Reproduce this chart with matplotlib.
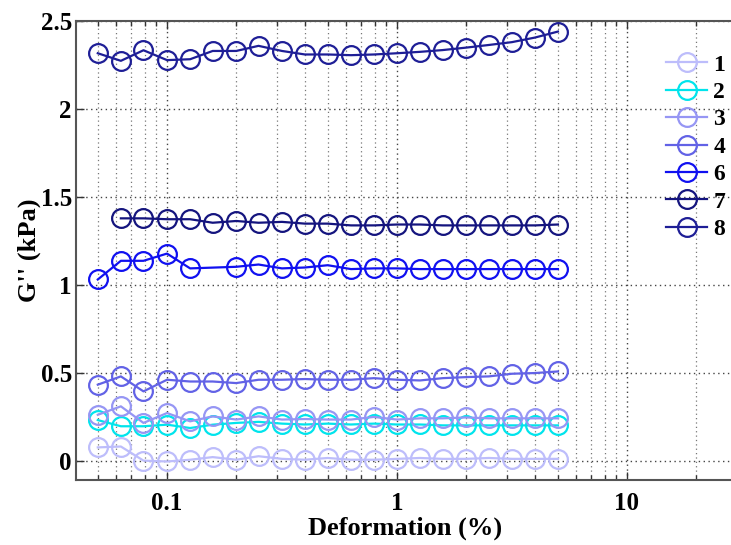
import numpy as np
import matplotlib
matplotlib.use("Agg")
import matplotlib.pyplot as plt
from matplotlib.ticker import LogLocator, FixedLocator, NullFormatter, FixedFormatter

# ---- data ----
x_full = [0.05, 0.063, 0.079, 0.1, 0.126, 0.158, 0.2, 0.25, 0.316, 0.398, 0.5,
          0.631, 0.794, 1.0, 1.26, 1.58, 2.0, 2.51, 3.16, 3.98, 5.01]
x_s6 = [0.05, 0.063, 0.079, 0.1, 0.126, 0.2, 0.25, 0.316, 0.398, 0.5,
        0.631, 0.794, 1.0, 1.26, 1.58, 2.0, 2.51, 3.16, 3.98, 5.01]
x_s7 = [0.063, 0.079, 0.1, 0.126, 0.158, 0.2, 0.25, 0.316, 0.398, 0.5,
        0.631, 0.794, 1.0, 1.26, 1.58, 2.0, 2.51, 3.16, 3.98, 5.01]

s1 = [0.08, 0.085, 0.005, 0.0, 0.01, 0.025, 0.01, 0.03, 0.015, 0.01, 0.02,
      0.01, 0.01, 0.015, 0.02, 0.015, 0.015, 0.02, 0.015, 0.015, 0.015]
s2 = [0.235, 0.2, 0.2, 0.209, 0.19, 0.209, 0.219, 0.225, 0.215, 0.21, 0.215,
      0.21, 0.215, 0.21, 0.21, 0.205, 0.205, 0.205, 0.205, 0.205, 0.205]
s3 = [0.265, 0.313, 0.219, 0.275, 0.228, 0.256, 0.238, 0.256, 0.238, 0.241, 0.238,
      0.238, 0.253, 0.238, 0.245, 0.245, 0.25, 0.245, 0.245, 0.245, 0.245]
s4 = [0.436, 0.483, 0.398, 0.464, 0.454, 0.454, 0.445, 0.464, 0.464, 0.468, 0.464,
      0.464, 0.473, 0.464, 0.46, 0.473, 0.479, 0.483, 0.498, 0.502, 0.511]
s6 = [1.033, 1.139, 1.139, 1.18, 1.096, 1.105, 1.118, 1.096, 1.101, 1.114,
      1.092, 1.096, 1.096, 1.092, 1.092, 1.092, 1.092, 1.092, 1.092, 1.092]
s7 = [1.38, 1.38, 1.375, 1.375, 1.355, 1.365, 1.355, 1.36, 1.35, 1.35,
      1.34, 1.34, 1.345, 1.345, 1.34, 1.34, 1.34, 1.34, 1.34, 1.345]
s8 = [2.317, 2.274, 2.334, 2.278, 2.283, 2.33, 2.33, 2.359, 2.33, 2.31, 2.31,
      2.306, 2.31, 2.317, 2.325, 2.335, 2.349, 2.364, 2.38, 2.406, 2.44]

labels = ["1", "2", "3", "4", "6", "7", "8"]
colors = ["#bdbdfb", "#00e4ec", "#9696f4", "#6262e6", "#1010f0", "#14147e", "#1e1e96"]

series = [(x_full, s1), (x_full, s2), (x_full, s3), (x_full, s4),
          (x_s6, s6), (x_s7, s7), (x_full, s8)]

# ---- figure ----
W, H = 731, 545
fig = plt.figure(figsize=(W / 100, H / 100), dpi=100)
left, right, top, bottom = 76, 735, 21, 480
ax = fig.add_axes([left / W, (H - bottom) / H, (right - left) / W, (bottom - top) / H])

serif = ["Liberation Serif", "DejaVu Serif"]

for (xs, ys), c, lab in zip(series, colors, labels):
    ax.plot(xs, ys, color=c, lw=1.6, marker="o", ms=13.5, mfc="none", mec=c,
            mew=1.6, label=lab)

ax.set_xscale("log")
ax.set_xlim(0.0402, 29.5)
ax.set_ylim(-0.105, 2.5)

ax.xaxis.set_major_locator(FixedLocator([0.1, 1, 10]))
ax.xaxis.set_major_formatter(FixedFormatter(["0.1", "1", "10"]))
ax.xaxis.set_minor_locator(LogLocator(base=10, subs=np.arange(2, 10) * 1.0, numticks=20))
ax.xaxis.set_minor_formatter(NullFormatter())
ax.set_yticks([0, 0.5, 1, 1.5, 2, 2.5])
ax.set_yticklabels(["0", "0.5", "1", "1.5", "2", "2.5"])

ax.grid(True, which="major", axis="both", linestyle=(0, (1, 2.5)), color="#444444", lw=1.0)
ax.grid(True, which="minor", axis="x", linestyle=(0, (1, 2.5)), color="#777777", lw=0.9)

ax.tick_params(which="both", direction="in", top=True, right=False, width=1.0, color="#333333")
ax.tick_params(which="major", length=6)
ax.tick_params(which="minor", length=3.5)
ax.tick_params(axis="x", which="major", pad=9)
ax.tick_params(axis="y", which="major", pad=3)

for lab in ax.get_xticklabels() + ax.get_yticklabels():
    lab.set_family(serif)
    lab.set_fontweight("bold")
    lab.set_fontsize(18)

for sp in ["left", "bottom", "top"]:
    ax.spines[sp].set_color("#555555")
    ax.spines[sp].set_linewidth(1.5)
ax.spines["right"].set_visible(False)

ax.set_xlabel("Deformation (%)", fontsize=19, fontweight="bold", family=serif, labelpad=1)
ax.set_ylabel("G'' (kPa)", fontsize=19, fontweight="bold", family=serif, labelpad=0)

leg = ax.legend(loc="upper left", bbox_to_anchor=(666 / W, (H - 54) / H),
                bbox_transform=fig.transFigure, frameon=False,
                prop={"family": serif, "weight": "bold", "size": 17},
                handlelength=1.75, handletextpad=0.25, labelspacing=0.25,
                borderaxespad=0, borderpad=0)

fig.savefig("out.png", dpi=100)
